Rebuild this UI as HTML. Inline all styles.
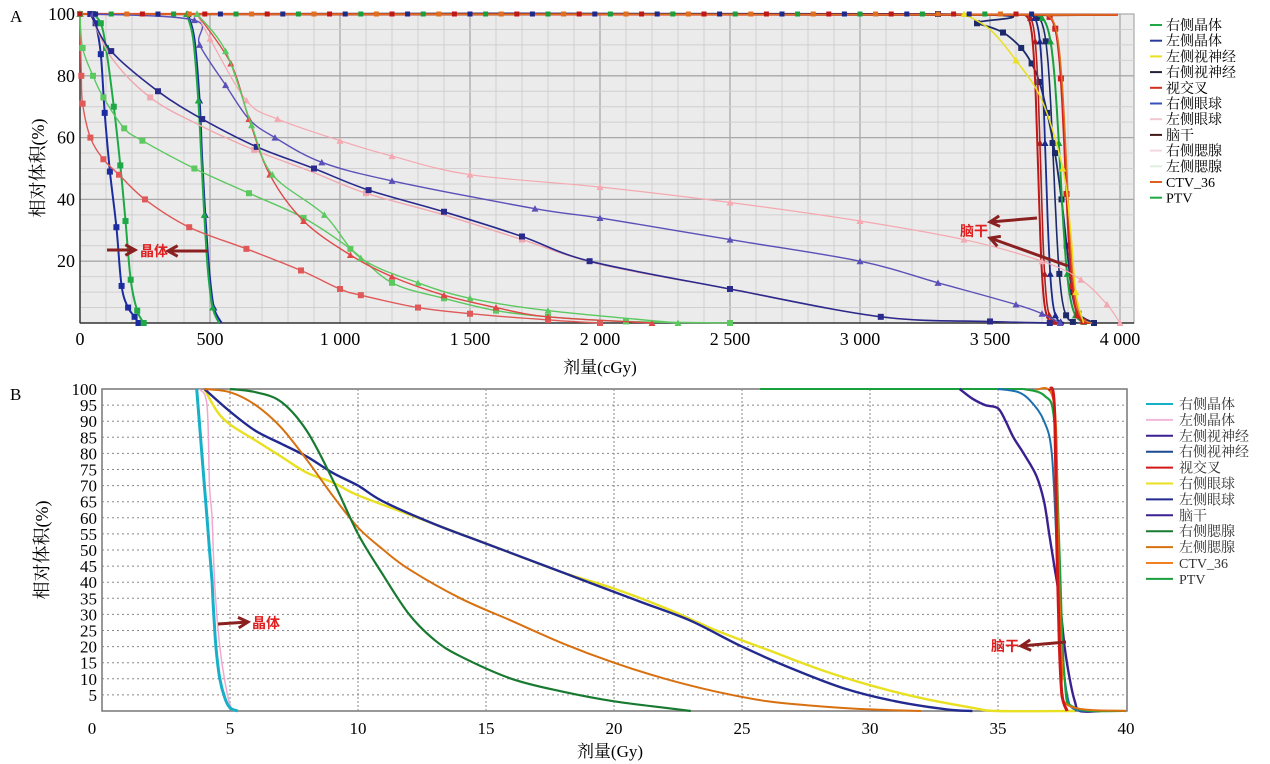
<!DOCTYPE html>
<html><head><meta charset="utf-8">
<style>
body{margin:0;background:#fff;}
svg{display:block;font-family:"Liberation Serif","Noto Serif CJK SC",serif;}
</style></head><body>
<svg id="s" width="1270" height="764" viewBox="0 0 1270 764" xmlns="http://www.w3.org/2000/svg">
<rect width="1270" height="764" fill="#fff"/>
<g id="top"></g>
<g id="bot"></g>
<text x="10" y="22" font-size="17">A</text>
<text x="10" y="400" font-size="17">B</text>
<text transform="translate(44,168) rotate(-90)" font-size="18" text-anchor="middle">相对体积(%)</text>
<text transform="translate(48,550) rotate(-90)" font-size="18" text-anchor="middle">相对体积(%)</text>
<text x="600" y="373" font-size="17" text-anchor="middle">剂量(cGy)</text>
<text x="610" y="757" font-size="17" text-anchor="middle">剂量(Gy)</text>
</svg>
<script>
var NS="http://www.w3.org/2000/svg";
function el(p,t,a,txt){var e=document.createElementNS(NS,t);for(var k in a)e.setAttribute(k,a[k]);if(txt!==undefined)e.textContent=txt;p.appendChild(e);return e;}
function smooth(P){if(P.length<3){return 'M'+P.map(function(p){return p[0].toFixed(1)+','+p[1].toFixed(1);}).join('L');}
 var s='M'+P[0][0].toFixed(1)+','+P[0][1].toFixed(1);
 for(var i=0;i<P.length-1;i++){var p0=P[i-1]||P[i],p1=P[i],p2=P[i+1],p3=P[i+2]||p2;
  var c1=[p1[0]+(p2[0]-p0[0])/6,p1[1]+(p2[1]-p0[1])/6],c2=[p2[0]-(p3[0]-p1[0])/6,p2[1]-(p3[1]-p1[1])/6];
  s+='C'+c1[0].toFixed(1)+','+c1[1].toFixed(1)+' '+c2[0].toFixed(1)+','+c2[1].toFixed(1)+' '+p2[0].toFixed(1)+','+p2[1].toFixed(1);}
 return s;}
var T=document.getElementById('top'),B=document.getElementById('bot');
function TX(d){return 80+d*0.26;} function TY(v){return 323-v*3.09;}
el(T,'rect',{x:80,y:14,width:1054,height:309,fill:'#ebebeb',stroke:'#999'});
for(var d=100;d<4200;d+=100){var x=TX(d);if(x>1134)break;el(T,'line',{x1:x,y1:14,x2:x,y2:323,stroke:d%500==0?'#a8a8a8':'#d0d0d0','stroke-width':d%500==0?1.3:1});}
for(var v=5;v<100;v+=5){el(T,'line',{x1:80,y1:TY(v),x2:1134,y2:TY(v),stroke:v%20==0?'#a8a8a8':'#d0d0d0','stroke-width':v%20==0?1.3:1});}
el(T,'line',{x1:80,y1:14,x2:80,y2:323,stroke:'#333','stroke-width':1.5});
el(T,'line',{x1:80,y1:323,x2:1134,y2:323,stroke:'#333','stroke-width':1.5});
[100,80,60,40,20].forEach(function(v){el(T,'text',{x:75,y:TY(v)+6,'font-size':18,'text-anchor':'end'},v);});
['0','500','1 000','1 500','2 000','2 500','3 000','3 500','4 000'].forEach(function(s,i){el(T,'text',{x:TX(i*500),y:345,'font-size':18,'text-anchor':'middle'},s);});
function sig(d50,s,start){var p=[[start||0,100]];for(var d=d50-6*s;d<=d50+6*s;d+=s/3){p.push([d,100/(1+Math.exp((d-d50)/s))]);}p.push([d50+7*s,0]);return p;}
function tcurve(pts,col,w,mk){var P=pts.map(function(p){return [TX(p[0]),TY(p[1])];});
 el(T,'path',{d:smooth(P),fill:'none',stroke:col,'stroke-width':w||1.6});
 if(mk){pts.forEach(function(p,i){if(i%mk.n)return;var x=TX(p[0]),y=TY(p[1]);if(mk.t=='s')el(T,'rect',{x:x-3,y:y-3,width:6,height:6,fill:col});else el(T,'path',{d:'M'+x+','+(y-3.5)+'L'+(x+3.5)+','+(y+3)+'L'+(x-3.5)+','+(y+3)+'Z',fill:col});});}}
var C=[
[[[0,100],[3300,100],[3450,97],[3550,94],[3620,89],[3660,84],[3690,78],[3720,68],[3750,55],[3775,40],[3795,25],[3815,10],[3840,3],[3900,0]],'#1c2a6b',1.8,{t:'s',n:1}],
[sig(3685,9),'#c01818',2],[sig(3695,9),'#b02020',1.6,{t:'t',n:6}],
[sig(3715,10),'#1c2a8c',1.8,{t:'t',n:6}],[sig(3745,13),'#1c2a6b',1.6,{t:'s',n:6}],
[sig(3770,16),'#19a03c',2,{t:'t',n:6}],[sig(3790,13),'#d02020',2.2,{t:'s',n:5}],[sig(3795,14),'#e07020',1.5],
[[[3400,100],[3500,95],[3600,85],[3700,72],[3780,50],[3810,30],[3830,10],[3860,0]],'#e8e020',1.5,{t:'c',n:2}],
[[[40,100],[60,97],[80,87],[95,68],[115,49],[140,31],[160,12],[185,5],[210,2],[225,0]],'#1c2ca0',2,{t:'s',n:1}],
[[[50,100],[80,97],[100,89],[130,70],[155,51],[175,33],[195,14],[220,4],[245,0]],'#1ea846',2,{t:'s',n:1}],
[[[415,100],[440,92],[460,72],[470,53],[482,35],[497,17],[515,5],[545,0]],'#1c2ca0',2,{t:'t',n:2}],
[[[410,100],[435,92],[455,72],[467,53],[478,35],[492,17],[510,5],[535,0]],'#1ea846',2,{t:'t',n:2}],
[[[0,100],[5,80],[10,71],[40,60],[90,53],[150,48],[250,40],[420,31],[640,24],[850,17],[1000,11],[1080,9],[1300,5],[1500,3],[1800,1],[2000,0]],'#e05858',1.4,{t:'s',n:1}],
[[[0,100],[10,89],[50,80],[90,73],[170,63],[240,59],[440,50],[650,42],[860,34],[1040,24],[1200,13],[1400,8],[1600,4],[1800,2],[2100,0.5],[2500,0]],'#5cc860',1.4,{t:'s',n:1}],
[[[40,100],[120,86],[270,73],[460,64],[670,56],[890,49],[1100,42],[1400,35],[1700,27],[2000,19],[2500,11],[3080,2],[3500,0.5],[3730,0]],'#f0a8b0',1.4,{t:'s',n:2}],
[[[40,100],[120,88],[300,75],[470,66],[680,57],[900,50],[1110,43],[1400,36],[1700,28],[1960,20],[2500,11],[3080,2],[3500,0.5],[3730,0]],'#2a2a8c',1.6,{t:'s',n:1}],
[[[50,100],[440,98],[460,90],[560,77],[650,66],[750,60],[930,52],[1200,46],[1750,37],[2000,34],[2500,27],[3000,20],[3300,13],[3600,6],[3700,3],[3770,0]],'#5a50b8',1.4,{t:'t',n:1}],
[[[450,100],[500,92],[640,72],[760,66],[1000,59],[1200,54],[1500,48],[2000,44],[2500,39],[3000,33],[3400,27],[3700,20],[3850,14],[3950,6],[4000,0]],'#f4a8b0',1.2,{t:'t',n:1}],
[[[450,100],[580,84],[650,66],[730,48],[860,33],[1040,22],[1200,15],[1400,9],[1600,5],[1800,2],[2200,0]],'#e04848',1.4,{t:'t',n:1}],
[[[450,100],[560,88],[660,64],[740,48],[940,35],[1080,21],[1300,13],[1500,8],[1800,4],[2300,0]],'#5cc860',1.4,{t:'t',n:1}]
];
C.forEach(function(c){tcurve(c[0],c[1],c[2],c[3]);});
for(var d=0;d<3700;d+=60){var x=TX(d),y=TY(100);var cs=['#c01818','#1c2a8c','#19a03c','#e07020'];el(T,'rect',{x:x-2.5,y:y-2.5,width:5,height:5,fill:cs[(d/60)%4]});}
var LT=[['右侧晶体','#1ea846'],['左侧晶体','#2a3aa0'],['左侧视神经','#e8e020'],['右侧视神经','#222238'],['视交叉','#d03020'],['右侧眼球','#3a50c0'],['左侧眼球','#f0c8d0'],['脑干','#401818'],['右侧腮腺','#f0d8e0'],['左侧腮腺','#e0f0e0'],['CTV_36','#e06020'],['PTV','#1ea846']];
LT.forEach(function(l,i){var y=25+i*15.7;el(T,'line',{x1:1150,y1:y,x2:1162,y2:y,stroke:l[1],'stroke-width':2});el(T,'text',{x:1166,y:y+5,'font-size':14},l[0]);});
function BX(g){return 102+g*25.6;} function BY(v){return 711-v*3.22;}
el(B,'rect',{x:102,y:389,width:1025,height:322,fill:'#fff',stroke:'#777','stroke-width':1.5});
for(var v=5;v<100;v+=5)el(B,'line',{x1:102,y1:BY(v),x2:1127,y2:BY(v),stroke:'#888','stroke-dasharray':'2,3'});
for(var g=5;g<40;g+=5)el(B,'line',{x1:BX(g),y1:389,x2:BX(g),y2:711,stroke:'#888','stroke-dasharray':'2,2'});
for(var v=5;v<=100;v+=5)el(B,'text',{x:97,y:BY(v)+6,'font-size':17,'text-anchor':'end'},v);
for(var g=0;g<=40;g+=5)el(B,'text',{x:BX(g)-(g==0?10:0),y:734,'font-size':17,'text-anchor':'middle'},g);
function bc(pts,col,w){var P=pts.map(function(p){return [BX(p[0]),BY(p[1])];});el(B,'path',{d:smooth(P),fill:'none',stroke:col,'stroke-width':w||2.2,'stroke-linejoin':'round'});}
bc([[25.7,100],[36,100]],'#19a03c',2);
bc([[4,100],[4.5,93],[5,89],[6,84],[7,79],[8,74],[9,71],[10,67],[12,61],[14,55],[16,49],[18,43],[20,38],[22,32],[24,25],[26,19],[28,13],[30,8],[32,4],[34,1],[35,0],[38,0]],'#e8e020',2.4);
bc([[4,100],[5,93],[6,87],[7,83],[8,79],[9,74],[10,70],[11,65],[13,58],[15,52],[17,46],[19,40],[21,34],[23,28],[25,20],[27,13],[29,7],[31,3],[33,0.5],[34,0]],'#222a90',2.4);
bc([[4,100],[5,99],[6,95],[7,88],[8,78],[9,67],[10,57],[11,50],[12,44],[14,35],[16,28],[18,21],[20,15],[22,10],[24,6],[26,3],[28,1.5],[30,0.5],[32,0]],'#d87010',2);
bc([[5,100],[6,99],[7,96],[8,87],[9,72],[10,55],[11,42],[12,30],[13,22],[14,17],[16,10],[18,6],[20,3],[22,1],[23,0]],'#187a30',2.2);
bc([[3.8,100],[4.1,95],[4.2,70],[4.3,60],[4.4,40],[4.6,20],[4.9,5],[5.1,0]],'#f0a8d0',1.5);
bc([[3.7,100],[3.8,90],[3.9,80],[4.0,70],[4.1,60],[4.2,50],[4.3,40],[4.35,32],[4.45,20],[4.6,10],[4.8,4],[5.0,1],[5.3,0]],'#18b0c8',3);
bc([[33.5,100],[34,97],[34.5,95],[35,94],[35.3,90],[35.6,85],[36,80],[36.5,73],[36.8,65],[37,55],[37.2,45],[37.4,35],[37.6,20],[37.8,10],[38,3],[38.2,0],[39,0]],'#3a2090',2.4);
bc([[35,100],[35.8,99],[36.3,96],[36.8,90],[37.1,80],[37.3,50],[37.5,20],[37.7,5],[38,0.5],[39,0]],'#1a70b0',2);
bc([[36,100],[36.8,98],[37.2,90],[37.4,50],[37.6,10],[38,1],[40,0]],'#19a03c',2.2);
bc([[36.5,100],[37.2,95],[37.35,50],[37.5,15],[37.7,2],[40,0]],'#e07010',2);
bc([[37,100],[37.2,95],[37.3,50],[37.4,20],[37.5,5],[37.7,0]],'#d01818',3);
var LB=[['右侧晶体','#18b0c8'],['左侧晶体','#f0b8d8'],['左侧视神经','#3a2090'],['右侧视神经','#1a4a90'],['视交叉','#d01818'],['右侧眼球','#e8e020'],['左侧眼球','#222a90'],['脑干','#3a2090'],['右侧腮腺','#187a30'],['左侧腮腺','#d87010'],['CTV_36','#f08020'],['PTV','#19a03c']];
LB.forEach(function(l,i){var y=404+i*15.9;el(B,'line',{x1:1146,y1:y,x2:1173,y2:y,stroke:l[1],'stroke-width':2});el(B,'text',{x:1179,y:y+5,'font-size':14,fill:'#333'},l[0]);});
var S=document.getElementById('s');
function arrow(x1,y1,x2,y2){el(S,'line',{x1:x1,y1:y1,x2:x2,y2:y2,stroke:'#8a2020','stroke-width':3});var a=Math.atan2(y2-y1,x2-x1),L=11;
 el(S,'path',{d:'M'+(x2-L*Math.cos(a-0.5))+','+(y2-L*Math.sin(a-0.5))+'L'+x2+','+y2+'L'+(x2-L*Math.cos(a+0.5))+','+(y2-L*Math.sin(a+0.5)),fill:'none',stroke:'#8a2020','stroke-width':3});}
function lab(x,y,t){el(S,'text',{x:x,y:y,'font-size':14,'font-weight':'bold',fill:'#e02020','font-family':'"Noto Sans CJK SC",sans-serif'},t);}
arrow(107,250,135,250);arrow(208,251,168,251);lab(140,256,'晶体');
arrow(1037,218,990,222);arrow(1068,266,990,238);lab(960,236,'脑干');
arrow(218,624,248,622);lab(252,628,'晶体');
arrow(1066,642,1021,646);lab(991,651,'脑干');
</script>
</body></html>
